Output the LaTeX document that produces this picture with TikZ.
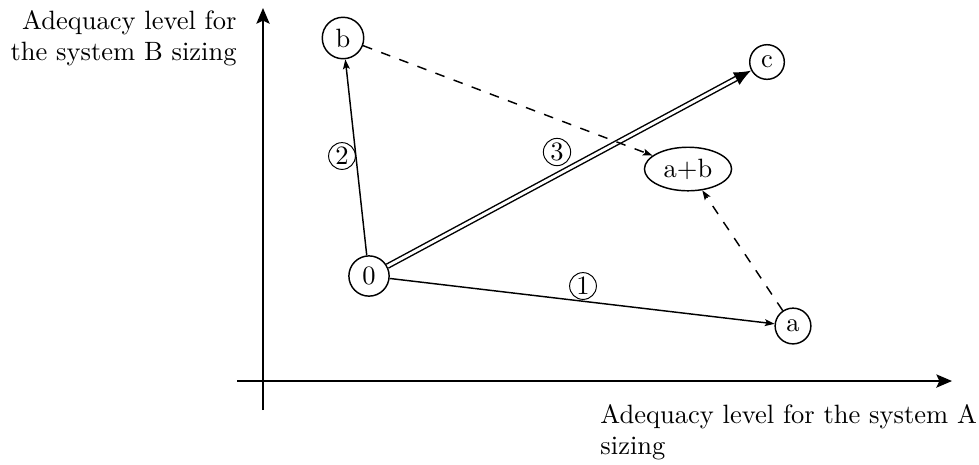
\documentclass[tikz,border=0pt]{standalone}
\usetikzlibrary{arrows.meta,shapes.geometric}
\begin{document}
\begin{tikzpicture}[x=0.4132pt,y=-0.4132pt,
  every node/.style={font=\fontsize{10.95}{12.8}\selectfont},
  state/.style={draw,circle,semithick,inner sep=2.6pt},
  numlabel/.style={draw,circle,inner sep=0.7pt},
  axis/.style={semithick,-{Stealth[length=6.5pt,width=5.5pt,inset=1.3pt]}},
  edge/.style={semithick,-{Stealth[length=4pt,width=2.8pt,inset=0.8pt]}},
  dashedge/.style={semithick,dashed,dash pattern=on 4pt off 4pt,-{Stealth[length=4pt,width=2.8pt,inset=0.8pt]}},
  axislabel/.style={inner sep=0pt}]
\useasboundingbox (0,0) rectangle (979,464);
% axes
\coordinate (ybot) at (263,410);
\coordinate (ytop) at (263,8);
\coordinate (xl) at (237,381);
\coordinate (xr) at (952,381);
\draw[axis] (ybot) -- (ytop);
\draw[axis] (xl) -- (xr);
\node[axislabel,anchor=north east,align=right] (ylab) at (237,10) {Adequacy level for\\the system B sizing};
\node[axislabel,anchor=north west,align=left] (xlab) at (600,404) {Adequacy level for the system A\\sizing};
% nodes
\node[state] (o) at (369,276) {0};
\node[state] (b) at (343,38) {b};
\node[state] (c) at (767,62) {c};
\node[state] (a) at (793,326) {a};
\node[draw,ellipse,semithick,inner sep=0pt,minimum width=36pt,minimum height=18pt] (ab) at (688,169) {a+b};
% edges
\draw[edge] (o) -- (b);
\draw[edge] (o) -- (a);
\draw[semithick,double,double distance=1.2pt,-{Latex[length=7pt,width=6pt]}] (o) -- (c);
\draw[dashedge] (b) -- (ab);
\draw[dashedge] (a) -- (ab);
% step labels
\node[numlabel] (l1) at (583,286) {1};
\node[numlabel] (l2) at (342,156) {2};
\node[numlabel] (l3) at (557,152) {3};
\end{tikzpicture}
\end{document}
